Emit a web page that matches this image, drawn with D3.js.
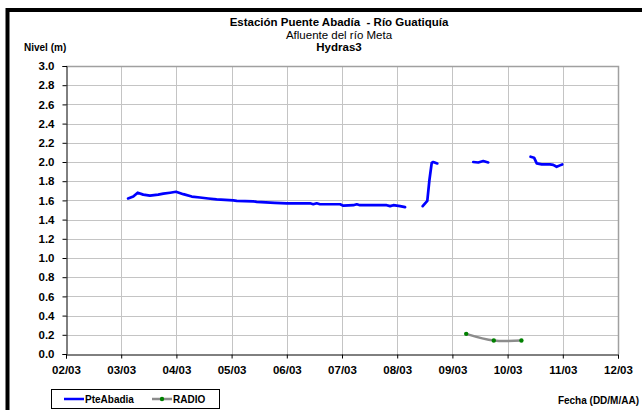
<!DOCTYPE html>
<html>
<head>
<meta charset="utf-8">
<script src="https://cdn.jsdelivr.net/npm/d3@7"></script>
<style>
  body { margin: 0; background: #fff; }
  svg { display: block; font-family: "Liberation Sans", Arial, sans-serif; }
</style>
</head>
<body>
<svg id="chart" width="642" height="410"></svg>
<script>
// nivel PteAbadia (null = hueco sin datos)
var pteTimes = [
  "03/03 03:00", "03/03 05:15", "03/03 07:10", "03/03 09:35", "03/03 12:30",
  "03/03 16:05", "03/03 18:20", "03/03 21:15", "03/03 23:50", "04/03 03:00",
  "04/03 06:40", "04/03 10:15", "04/03 13:50", "04/03 17:30", "05/03 00:45",
  "05/03 02:15", "05/03 09:25", "05/03 10:55", "05/03 18:50", "06/03 00:00",
  "06/03 10:05", "06/03 11:30", "06/03 13:00", "06/03 14:25", "06/03 23:10",
  "07/03 00:35", "07/03 04:55", "07/03 06:25", "07/03 07:50", "07/03 19:25",
  "07/03 20:55", "07/03 22:20", "08/03 01:15", "08/03 03:25",
  null,
  "08/03 11:05", "08/03 13:05", "08/03 14:00", "08/03 15:00", "08/03 15:40",
  "08/03 17:25",
  null,
  "09/03 09:05", "09/03 11:15", "09/03 13:25", "09/03 15:35",
  null,
  "10/03 10:00", "10/03 11:30", "10/03 12:40", "10/03 14:50", "10/03 18:25",
  "10/03 19:50", "10/03 21:20", "10/03 22:45", "10/03 23:45"
];
var pteValues = [
  1.62, 1.64, 1.68, 1.66, 1.65,
  1.66, 1.67, 1.68, 1.69, 1.665,
  1.64, 1.63, 1.62, 1.61, 1.60,
  1.595, 1.59, 1.585, 1.575, 1.57,
  1.57, 1.56, 1.57, 1.56, 1.56,
  1.545, 1.55, 1.56, 1.55, 1.55,
  1.54, 1.55, 1.54, 1.53,
  null,
  1.54, 1.595, 1.81, 1.99, 2.00,
  1.985,
  null,
  2.00, 1.995, 2.01, 1.995,
  null,
  2.055, 2.045, 1.985, 1.975, 1.975,
  1.97, 1.95, 1.965, 1.975
];

// lecturas RADIO
var radioTimes = ["09/03 06:00", "09/03 18:00", "10/03 06:00"];
var radioValues = [0.21, 0.14, 0.14];

var xTickLabels = ["02/03", "03/03", "04/03", "05/03", "06/03", "07/03",
                   "08/03", "09/03", "10/03", "11/03", "12/03"];
var yTicks = [0, 0.2, 0.4, 0.6, 0.8, 1.0, 1.2, 1.4, 1.6, 1.8, 2.0, 2.2, 2.4, 2.6, 2.8, 3.0];

var parseTime = d3.timeParse("%d/%m %H:%M");
var parseDay = d3.timeParse("%d/%m");

var svg = d3.select("#chart");
var pLeft = 66, pRight = 618, pTop = 66, pBottom = 354;

var x = d3.scaleTime()
    .domain([parseDay(xTickLabels[0]), parseDay(xTickLabels[xTickLabels.length - 1])])
    .range([pLeft, pRight]);
var y = d3.scaleLinear()
    .domain([0, 3])
    .range([pBottom, pTop]);

// marco negro
svg.append("rect")
    .attr("x", 7.5).attr("y", 10)
    .attr("width", 660).attr("height", 420)
    .attr("fill", "none")
    .attr("stroke", "#000")
    .attr("stroke-width", 4);

// rejilla
var xTickDates = xTickLabels.map(function (d) { return parseDay(d); });
svg.append("g").selectAll("line")
    .data(yTicks.slice(1))
    .enter().append("line")
    .attr("x1", pLeft).attr("x2", pRight)
    .attr("y1", function (d) { return Math.round(y(d)) + 0.5; })
    .attr("y2", function (d) { return Math.round(y(d)) + 0.5; })
    .attr("stroke", "#c4c4c4");
svg.append("g").selectAll("line")
    .data(xTickDates.slice(1))
    .enter().append("line")
    .attr("x1", function (d) { return Math.round(x(d)) + 0.5; })
    .attr("x2", function (d) { return Math.round(x(d)) + 0.5; })
    .attr("y1", pTop).attr("y2", pBottom)
    .attr("stroke", "#c4c4c4");

// borde superior y derecho del area
svg.append("path")
    .attr("d", "M" + pLeft + "," + (pTop + 0.5) + "H" + (pRight + 0.5) + "V" + pBottom)
    .attr("fill", "none")
    .attr("stroke", "#a0a0a0")
    .attr("stroke-width", 1.5);

// ejes
var yAxis = d3.axisLeft(y)
    .tickValues(yTicks)
    .tickFormat(d3.format(".1f"))
    .tickSize(4)
    .tickPadding(8);
var gy = svg.append("g")
    .attr("transform", "translate(" + (pLeft + 0.5) + ",0)")
    .call(yAxis);

var xAxis = d3.axisBottom(x)
    .tickValues(xTickDates)
    .tickFormat(function (d, i) { return xTickLabels[i]; })
    .tickSize(4)
    .tickPadding(7);
var gx = svg.append("g")
    .attr("transform", "translate(0," + (pBottom + 0.5) + ")")
    .call(xAxis);

[gx, gy].forEach(function (g) {
    g.select(".domain").attr("stroke", "#000");
    g.selectAll(".tick line").attr("stroke", "#000");
    g.selectAll("text")
        .attr("fill", "#000")
        .style("font-size", "11.5px")
        .style("font-weight", "bold");
});

// series
var pte = pteTimes.map(function (t, i) {
    return {t: t ? parseTime(t) : null, v: pteValues[i]};
});
var line = d3.line()
    .defined(function (d) { return d.v !== null; })
    .x(function (d) { return x(d.t); })
    .y(function (d) { return y(d.v); });

svg.append("path")
    .datum(pte)
    .attr("d", line)
    .attr("fill", "none")
    .attr("stroke", "#0000ff")
    .attr("stroke-width", 2.7)
    .attr("stroke-linejoin", "round")
    .attr("stroke-linecap", "round");

var radio = radioTimes.map(function (t, i) {
    return {t: parseTime(t), v: radioValues[i]};
});
svg.append("path")
    .datum(radio)
    .attr("d", line.curve(d3.curveCatmullRom))
    .attr("fill", "none")
    .attr("stroke", "#8c8c8c")
    .attr("stroke-width", 2.5);
svg.append("g").selectAll("circle")
    .data(radio)
    .enter().append("circle")
    .attr("cx", function (d) { return x(d.t); })
    .attr("cy", function (d) { return y(d.v); })
    .attr("r", 2.2)
    .attr("fill", "#008000");

// titulos
svg.append("text")
    .attr("x", 339).attr("y", 26)
    .attr("text-anchor", "middle")
    .style("font-size", "11.5px").style("font-weight", "bold")
    .style("white-space", "pre")
    .text("Estación Puente Abadía  - Río Guatiquía");
svg.append("text")
    .attr("x", 339).attr("y", 39)
    .attr("text-anchor", "middle")
    .style("font-size", "11.5px")
    .text("Afluente del río Meta");
svg.append("text")
    .attr("x", 339).attr("y", 51)
    .attr("text-anchor", "middle")
    .style("font-size", "11.5px").style("font-weight", "bold")
    .text("Hydras3");
svg.append("text")
    .attr("x", 24).attr("y", 51)
    .style("font-size", "10px").style("font-weight", "bold")
    .text("Nivel (m)");
svg.append("text")
    .attr("x", 639).attr("y", 404)
    .attr("text-anchor", "end")
    .style("font-size", "10px").style("font-weight", "bold")
    .text("Fecha (DD/M/AA)");

// leyenda
var lg = svg.append("g");
lg.append("rect")
    .attr("x", 51.5).attr("y", 389.5)
    .attr("width", 168).attr("height", 19)
    .attr("fill", "#fff")
    .attr("stroke", "#000");
lg.append("line")
    .attr("x1", 64).attr("x2", 84).attr("y1", 399).attr("y2", 399)
    .attr("stroke", "#0000ff").attr("stroke-width", 2.5);
lg.append("text")
    .attr("x", 85).attr("y", 403)
    .style("font-size", "10px").style("font-weight", "bold")
    .text("PteAbadia");
lg.append("line")
    .attr("x1", 152).attr("x2", 172).attr("y1", 399).attr("y2", 399)
    .attr("stroke", "#8c8c8c").attr("stroke-width", 2.5);
lg.append("circle")
    .attr("cx", 162).attr("cy", 399).attr("r", 2.2)
    .attr("fill", "#008000");
lg.append("text")
    .attr("x", 173).attr("y", 403)
    .style("font-size", "10px").style("font-weight", "bold")
    .text("RADIO");
</script>
</body>
</html>
